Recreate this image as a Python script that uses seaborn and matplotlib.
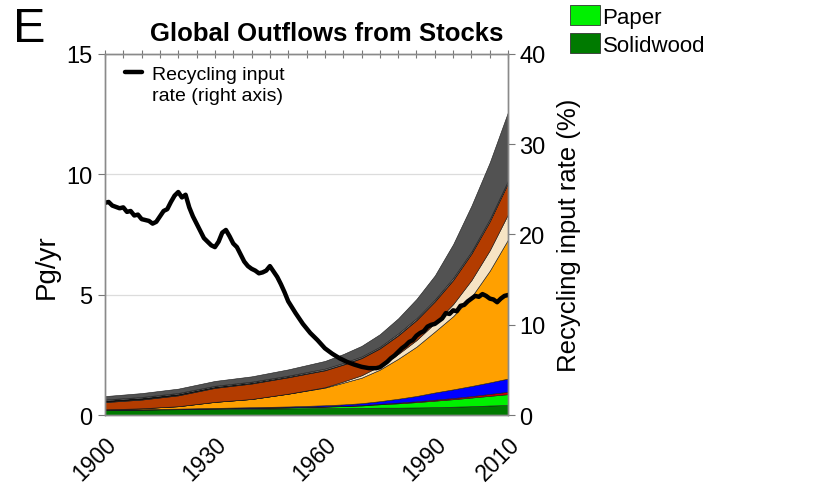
import matplotlib
matplotlib.use("Agg")
import matplotlib.pyplot as plt
from matplotlib.lines import Line2D
from matplotlib.patches import Patch
import seaborn as sns
import pandas as pd

# ---- stock outflow layers (Pg/yr), listed bottom to top ----
years = [1900, 1910, 1920, 1930, 1940, 1950, 1960, 1965, 1970, 1975,
         1980, 1985, 1990, 1995, 2000, 2005, 2010]
solidwood = [0.22, 0.23, 0.245, 0.26, 0.27, 0.28, 0.29, 0.295, 0.30, 0.31,
             0.31, 0.32, 0.33, 0.35, 0.37, 0.40, 0.42]
paper = [0.0, 0.005, 0.01, 0.02, 0.03, 0.04, 0.06, 0.08, 0.10, 0.14,
         0.18, 0.22, 0.27, 0.31, 0.36, 0.40, 0.45]
red_layer = [0.0, 0.0, 0.0, 0.0, 0.005, 0.005, 0.01, 0.01, 0.015, 0.02,
             0.03, 0.035, 0.04, 0.05, 0.06, 0.08, 0.10]
blue_layer = [0.01, 0.01, 0.015, 0.02, 0.025, 0.035, 0.05, 0.06, 0.08, 0.11,
              0.16, 0.22, 0.30, 0.36, 0.42, 0.48, 0.55]
orange_layer = [0.01, 0.04, 0.10, 0.25, 0.34, 0.53, 0.73, 0.90, 1.06, 1.31,
                1.66, 2.05, 2.53, 3.04, 3.70, 4.64, 5.78]
cream_layer = [0.0, 0.0, 0.0, 0.0, 0.0, 0.0, 0.02, 0.05, 0.10, 0.15,
               0.20, 0.27, 0.35, 0.50, 0.70, 0.85, 1.05]
brown_layer = [0.30, 0.36, 0.45, 0.58, 0.64, 0.68, 0.70, 0.70, 0.71, 0.73,
               0.77, 0.83, 0.90, 1.00, 1.10, 1.20, 1.30]
black_layer = [0.08, 0.08, 0.07, 0.06, 0.05, 0.04, 0.03, 0.03, 0.03, 0.03,
               0.03, 0.03, 0.03, 0.03, 0.03, 0.03, 0.03]
white_layer = [0.03, 0.03, 0.03, 0.03, 0.03, 0.03, 0.04, 0.04, 0.04, 0.04,
               0.05, 0.05, 0.05, 0.06, 0.06, 0.07, 0.07]
gray_layer = [0.14, 0.16, 0.18, 0.20, 0.22, 0.26, 0.32, 0.37, 0.44, 0.52,
              0.63, 0.80, 1.00, 1.40, 1.90, 2.35, 2.85]

layer_colors = ["#007a00", "#00f000", "#d00000", "#0000ff", "#ffa000",
                "#f6e4c4", "#b33c00", "#111111", "#ffffff", "#525252"]

# ---- recycling input rate (%), right axis ----
rate_years = [1900, 1901, 1902, 1904, 1905, 1906, 1907, 1908, 1909, 1910,
              1912, 1913, 1914, 1915, 1916, 1917, 1918, 1919, 1920, 1921,
              1922, 1923, 1924, 1925, 1926, 1927, 1928, 1929, 1930, 1931,
              1932, 1933, 1934, 1935, 1936, 1937, 1938, 1939, 1940, 1941,
              1942, 1943, 1944, 1945, 1946, 1947, 1948, 1949, 1950, 1952,
              1954, 1956, 1958, 1960, 1962, 1964, 1966, 1968, 1970, 1972,
              1974, 1975, 1976, 1977, 1978, 1979, 1980, 1981, 1982, 1983,
              1984, 1985, 1986, 1987, 1988, 1989, 1990, 1991, 1992, 1993,
              1994, 1995, 1996, 1997, 1998, 1999, 2000, 2001, 2002, 2003,
              2004, 2005, 2006, 2007, 2008, 2009, 2010]
rate_values = [23.5, 23.6, 23.2, 22.9, 23.0, 22.5, 22.6, 22.1, 22.2, 21.7,
               21.5, 21.2, 21.4, 22.0, 22.6, 22.8, 23.6, 24.3, 24.7, 24.1,
               24.4, 23.0, 22.0, 21.2, 20.4, 19.6, 19.2, 18.8, 18.6, 19.2,
               20.2, 20.5, 19.8, 19.0, 18.6, 17.8, 17.0, 16.5, 16.2, 16.0,
               15.7, 15.8, 16.0, 16.5, 15.9, 15.3, 14.5, 13.6, 12.6, 11.3,
               10.1, 9.1, 8.3, 7.4, 6.8, 6.3, 5.9, 5.6, 5.35, 5.2,
               5.2, 5.3, 5.6, 5.9, 6.3, 6.6, 7.0, 7.4, 7.7, 8.1,
               8.3, 8.8, 9.1, 9.3, 9.8, 10.0, 10.1, 10.4, 10.7, 11.3,
               11.2, 11.6, 11.5, 12.1, 12.2, 12.6, 12.9, 13.2, 13.1, 13.4,
               13.2, 12.9, 12.8, 12.5, 12.9, 13.2, 13.3]

x_ticks = list(range(1900, 2011, 5))
x_labels_shown = [1900, 1930, 1960, 1990, 2010]
left_ticks = [0, 5, 10, 15]
right_ticks = [0, 10, 20, 30, 40]

sns.set_theme(style="white")
plt.rcParams["font.family"] = ["Liberation Sans", "DejaVu Sans"]
plt.rcParams["text.color"] = "black"
plt.rcParams["axes.labelcolor"] = "black"
plt.rcParams["xtick.color"] = "black"
plt.rcParams["ytick.color"] = "black"

fig = plt.figure(figsize=(8.33, 4.85), dpi=100)
ax = fig.add_axes([0.126, 0.142, 0.484, 0.745])

layers = [solidwood, paper, red_layer, blue_layer, orange_layer,
          cream_layer, brown_layer, black_layer, white_layer, gray_layer]
ax.stackplot(years, *layers, colors=layer_colors,
             edgecolor="#1a1a1a", linewidth=0.4, zorder=2)

ax.set_xlim(1900, 2010)
ax.set_ylim(0, 15)
ax.set_yticks(left_ticks)
ax.set_yticklabels([str(v) for v in left_ticks], fontsize=17)
ax.set_xticks(x_ticks)
ax.set_xticklabels([str(t) if t in x_labels_shown else "" for t in x_ticks],
                   rotation=45, ha="right", va="top", rotation_mode="anchor",
                   fontsize=16.5)
ax.yaxis.grid(True, color="#dcdcdc", linewidth=0.9, zorder=0)
ax.set_axisbelow(True)
ax.set_ylabel("Pg/yr", fontsize=20)
ax.yaxis.set_label_coords(-0.112, 0.415)
ax.tick_params(axis="x", which="both", top=True, labeltop=False,
               direction="inout", length=6, width=0.8, color="#777777",
               labelcolor="black", pad=9.5)
ax.tick_params(axis="y", direction="out", length=5, width=0.8,
               color="#777777", labelcolor="black", pad=4, left=True)
for sp in ax.spines.values():
    sp.set_color("#8a8a8a")
    sp.set_linewidth(1.0)

# recycling rate on the secondary axis
ax2 = ax.twinx()
rate_df = pd.DataFrame({"year": rate_years, "rate": rate_values})
sns.lineplot(data=rate_df, x="year", y="rate", ax=ax2, color="black",
             linewidth=3.2, legend=False)
ax2.set_ylim(0, 40)
ax2.set_xlim(1900, 2010)
ax2.set_yticks(right_ticks)
ax2.set_yticklabels([str(v) for v in right_ticks], fontsize=17)
ax2.set_ylabel("Recycling input rate (%)", fontsize=18.5, labelpad=8)
ax2.set_xlabel("")
ax2.tick_params(axis="y", direction="out", length=5, width=0.8,
                color="#777777", labelcolor="black", pad=3, right=True)
for sp in ax2.spines.values():
    sp.set_color("#8a8a8a")
    sp.set_linewidth(1.0)

rate_handles = [Line2D([], [], color="black", linewidth=3.2),
                Line2D([], [], color="none")]
ax2.legend(rate_handles, ["Recycling input", "rate (right axis)"],
           loc="upper left", bbox_to_anchor=(0.02, 1.0), frameon=False,
           fontsize=14, handlelength=0.9, handletextpad=0.5,
           labelspacing=0.15, borderaxespad=0.2)

# material legend (lower part)
mat_handles = [Patch(facecolor="#00f000", edgecolor="#333333", linewidth=0.6),
               Patch(facecolor="#007a00", edgecolor="#333333", linewidth=0.6)]
fig.legend(mat_handles, ["Paper", "Solidwood"], loc="upper left",
           bbox_to_anchor=(0.666, 1.019), frameon=False, fontsize=16,
           handlelength=1.35, handleheight=1.0, handletextpad=0.1,
           labelspacing=0.25, borderpad=0.2)

fig.text(0.392, 0.93, "Global Outflows from Stocks", ha="center",
         va="center", fontsize=18.5, fontweight="bold")
fig.text(0.016, 0.94, "E", ha="left", va="center", fontsize=35)

fig.savefig("out.png", dpi=100)
